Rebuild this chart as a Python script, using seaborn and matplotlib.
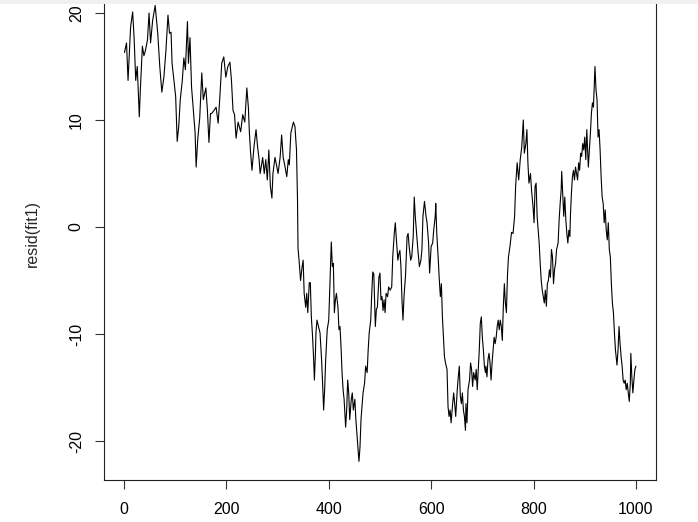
import matplotlib
matplotlib.use("Agg")
import matplotlib.pyplot as plt
import seaborn as sns
import pandas as pd

obs = [1, 5, 8, 13, 17, 20, 23, 26, 30, 32, 36, 39, 42, 46, 49, 52, 56, 61, 66, 70,
       74, 78, 82, 86, 89, 92, 94, 97, 101, 104, 107, 110, 114, 117, 120, 124, 126, 129, 132, 135,
       139, 141, 144, 148, 152, 155, 160, 163, 166, 169, 171, 176, 180, 184, 187, 191, 195, 199, 203, 207,
       210, 213, 216, 219, 223, 228, 232, 236, 240, 243, 245, 247, 250, 254, 258, 261, 264, 266, 271, 274,
       277, 280, 283, 286, 289, 291, 295, 298, 301, 305, 308, 311, 314, 318, 321, 323, 326, 329, 331, 334,
       337, 339, 340, 342, 345, 348, 350, 352, 355, 357, 359, 362, 364, 366, 368, 370, 372, 374, 375, 377,
       380, 383, 386, 388, 390, 392, 394, 397, 400, 402, 404, 405, 407, 409, 411, 413, 415, 418, 420, 422,
       424, 426, 428, 430, 433, 435, 437, 439, 441, 444, 446, 448, 451, 453, 455, 457, 459, 461, 463, 465,
       467, 470, 472, 475, 477, 479, 482, 484, 486, 488, 491, 493, 495, 498, 500, 502, 504, 506, 508, 510,
       512, 515, 517, 520, 523, 525, 528, 530, 532, 535, 537, 539, 541, 543, 545, 547, 550, 553, 555, 557,
       560, 562, 565, 567, 569, 572, 574, 577, 580, 582, 584, 587, 590, 592, 595, 597, 600, 603, 605, 608,
       609, 611, 614, 616, 618, 620, 622, 624, 626, 628, 631, 633, 635, 637, 639, 642, 644, 646, 648, 651,
       653, 655, 657, 659, 661, 663, 665, 667, 668, 670, 672, 675, 677, 679, 681, 683, 686, 688, 690, 692,
       694, 696, 698, 700, 702, 704, 706, 707, 709, 711, 713, 715, 717, 719, 721, 723, 725, 727, 729, 731,
       733, 735, 737, 739, 741, 743, 745, 747, 749, 751, 754, 757, 760, 763, 765, 768, 771, 774, 777, 780,
       782, 785, 787, 789, 791, 794, 796, 799, 801, 803, 805, 807, 809, 811, 813, 815, 817, 819, 821, 823,
       825, 827, 829, 831, 833, 835, 837, 839, 841, 843, 845, 848, 850, 852, 854, 855, 857, 859, 861, 863,
       865, 867, 869, 871, 872, 874, 876, 878, 880, 882, 884, 886, 888, 890, 892, 894, 896, 898, 900, 902,
       904, 906, 907, 909, 911, 913, 915, 917, 919, 920, 922, 924, 926, 928, 930, 932, 934, 936, 938, 940,
       942, 944, 946, 948, 950, 952, 954, 956, 958, 960, 962, 963, 965, 967, 969, 971, 973, 975, 977, 979,
       981, 983, 985, 987, 989, 990, 992, 994, 996, 998, 1000]

resid_fit1 = [16.3, 17.2, 13.7, 18.7, 20.1, 17.5, 13.7, 15.0, 10.3, 12.8, 16.9, 16.0, 16.5, 17.5, 20.0, 17.2, 19.3, 20.7, 18.1, 15.0,
              12.6, 14.0, 16.5, 19.8, 18.1, 18.2, 15.3, 14.0, 12.2, 8.0, 9.4, 11.9, 13.7, 15.8, 14.7, 19.2, 15.3, 17.7, 13.1, 11.2,
              8.8, 5.6, 8.1, 10.2, 14.4, 11.9, 13.0, 10.9, 7.9, 10.6, 10.6, 10.9, 11.2, 9.7, 11.9, 15.3, 15.9, 14.0, 15.0, 15.4,
              13.7, 10.9, 10.5, 8.3, 9.8, 8.9, 10.5, 9.8, 13.0, 11.2, 8.8, 7.2, 5.3, 7.5, 9.1, 7.5, 6.3, 5.0, 6.5, 5.0,
              6.3, 4.4, 7.2, 3.8, 2.7, 5.0, 6.5, 5.8, 5.0, 6.5, 8.6, 6.5, 5.8, 4.7, 6.3, 5.8, 8.8, 9.4, 9.8, 9.4,
              7.2, 2.5, -2.0, -3.1, -5.0, -3.7, -3.1, -6.2, -7.5, -6.2, -8.0, -5.2, -5.2, -8.4, -9.9, -11.8, -14.3, -11.8, -9.9, -8.7,
              -9.3, -9.9, -12.4, -14.6, -17.1, -15.2, -12.4, -9.6, -8.7, -5.9, -3.1, -1.4, -3.7, -3.4, -8.0, -6.8, -6.2, -7.5, -9.6, -9.3,
              -11.2, -13.6, -15.2, -16.1, -18.7, -17.1, -14.3, -15.5, -18.0, -16.1, -15.5, -17.1, -16.1, -18.0, -19.3, -20.6, -21.9, -20.6, -18.0, -16.8,
              -15.5, -14.6, -13.0, -13.6, -11.5, -9.9, -8.7, -6.2, -4.2, -4.4, -9.3, -7.7, -7.5, -4.7, -4.3, -6.8, -6.5, -7.8, -6.8, -8.0,
              -6.2, -6.5, -5.6, -5.9, -5.6, -2.8, -0.6, 0.4, -1.1, -3.1, -2.5, -2.2, -3.7, -6.8, -8.7, -6.5, -4.5, -0.9, -0.6, -1.8,
              -3.1, -2.8, -0.9, 2.8, 1.0, -0.9, -2.1, -3.7, -3.1, -2.1, 1.0, 2.4, 1.0, 0.4, -1.5, -4.3, -1.8, -1.5, -0.3, 1.0,
              2.2, -0.6, -3.1, -5.0, -6.5, -5.3, -8.4, -10.3, -12.1, -12.7, -13.3, -16.8, -17.7, -17.1, -18.3, -16.5, -15.5, -16.5, -17.7, -15.2,
              -14.0, -13.0, -15.8, -16.5, -15.5, -17.1, -17.7, -19.0, -16.5, -18.3, -15.2, -14.3, -12.7, -13.3, -14.9, -13.6, -14.3, -13.3, -15.2, -13.3,
              -11.5, -9.0, -8.4, -10.3, -11.5, -13.0, -13.6, -13.0, -14.0, -12.4, -11.8, -12.7, -14.3, -12.7, -11.5, -10.3, -10.9, -10.3, -9.3, -8.7,
              -9.6, -8.7, -9.3, -10.6, -7.4, -5.3, -7.1, -8.0, -4.6, -2.8, -1.8, -0.5, -0.6, 1.0, 3.8, 6.0, 4.4, 6.3, 7.5, 10.0,
              6.9, 7.8, 9.1, 6.0, 4.1, 5.0, 3.5, 1.9, 0.4, 3.8, 4.1, 1.0, -0.3, -1.5, -3.4, -5.0, -5.9, -6.5, -7.1, -5.9,
              -7.4, -5.3, -5.0, -4.0, -4.7, -2.1, -2.8, -5.3, -4.0, -3.4, -2.1, -1.5, 0.7, 2.2, 3.5, 5.2, 3.2, 1.0, 2.8, 0.7,
              -0.6, -1.5, -0.3, -0.9, 1.0, 3.2, 4.7, 5.3, 4.4, 5.6, 5.0, 4.4, 6.0, 5.3, 6.9, 6.6, 7.8, 7.2, 8.4, 6.3,
              9.1, 6.6, 5.6, 7.2, 8.7, 10.6, 11.6, 11.2, 13.7, 15.0, 12.8, 11.9, 8.4, 9.1, 7.2, 4.7, 2.8, 2.2, 0.4, 1.6,
              -0.3, -1.2, 0.4, -2.1, -2.8, -5.3, -7.1, -8.0, -9.9, -11.5, -12.4, -12.9, -11.5, -9.3, -10.9, -12.1, -13.0, -14.3, -14.6, -14.3,
              -15.2, -14.6, -15.5, -16.3, -14.6, -11.8, -14.0, -15.5, -14.3, -13.3, -13.0]

df = pd.DataFrame({"obs": obs, "resid": resid_fit1})

sns.set_theme(style="ticks")
plt.rcParams['font.family'] = ['Liberation Sans', 'DejaVu Sans']

fig = plt.figure(figsize=(6.98, 5.22), dpi=100)
# plot box: left 104px, bottom 480px, top above the screenshot edge
ax = fig.add_axes([104 / 698, 42 / 522, 552.4 / 698, 492.7 / 522])
ax.set_facecolor("none")

sns.lineplot(data=df, x="obs", y="resid", ax=ax, color="black", linewidth=0.8)

ax.set_xlim(-38.96, 1039.96)
ax.set_ylim(-23.64, 22.40)
ax.set_xticks([0, 200, 400, 600, 800, 1000])
ax.set_yticks([-20, -10, 0, 10, 20])
ax.set_yticklabels(["-20", "-10", "0", "10", "20"], rotation=90, va="center")
ax.tick_params(axis="both", length=6.5, width=0.8, color="#333333", labelsize=11.5, labelcolor="black")
ax.tick_params(axis="x", pad=9)
ax.tick_params(axis="y", pad=8)

for s in ax.spines.values():
    s.set_visible(True)
    s.set_color("#222222")
    s.set_linewidth(0.8)

ax.set_xlabel("")
ax.set_ylabel("resid(fit1)", fontsize=11.5)
ax.yaxis.set_label_coords((39.5 - 104) / 552.4, (480 - 233.6) / 492.7)

# light grey band at the top of the screenshot
fig.patches.append(plt.Rectangle((0, 1 - 4 / 522), 1, 4 / 522, transform=fig.transFigure,
                                 facecolor="#f1f1f1", edgecolor="none", zorder=0))

fig.savefig("out.png", dpi=100)
